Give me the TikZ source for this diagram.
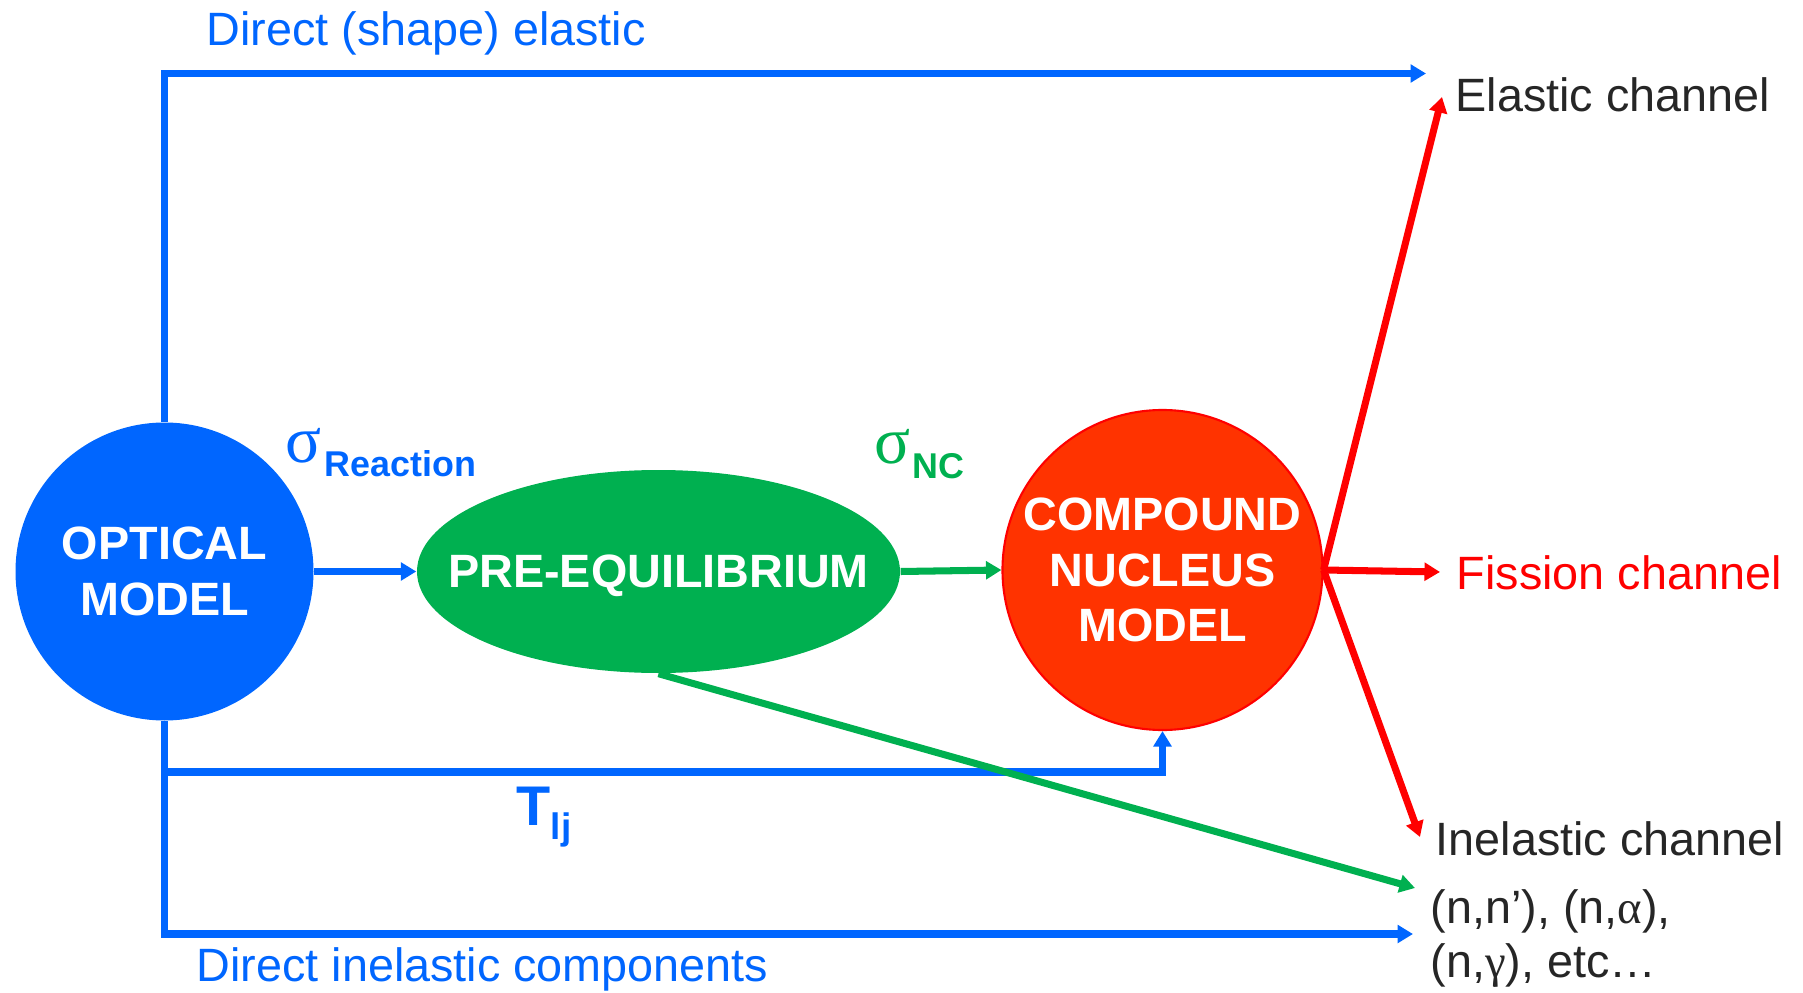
\documentclass[tikz,border=0pt]{standalone}
\usepackage{fontspec}
\setmainfont{Liberation Sans}
\newfontfamily\greekfont{Liberation Serif}
\usetikzlibrary{arrows.meta,shapes.geometric}

\definecolor{omblue}{HTML}{0066FF}
\definecolor{pegreen}{HTML}{00B050}
\definecolor{cnfill}{HTML}{FF3300}
\definecolor{cnred}{HTML}{FF0000}
\definecolor{txtgray}{HTML}{262626}

\begin{document}
\begin{tikzpicture}[
    flow/.style={line width=2pt, -{Triangle[length=4.4pt,width=5pt]}},
    model/.style={inner sep=0pt, text=white, align=center,
        font=\bfseries\fontsize{13.3}{15.8}\selectfont},
    lab/.style={anchor=base west, inner sep=0pt,
        font=\fontsize{13.3}{16}\selectfont},
]

    \useasboundingbox (0,0) rectangle (18.03,9.92);

    % modelos
    \node[model, circle, fill=omblue, minimum size=2.98cm] (optical) at (1.645,4.205) {OPTICAL\\MODEL};
    \node[model, ellipse, fill=pegreen, minimum width=4.83cm, minimum height=2.03cm, text depth=0pt] (preeq) at (6.585,4.205)
        {\makebox[2cm][c]{PRE-EQUILIBRIUM}};
    \node[model, circle, fill=cnfill, draw=cnred, line width=0.6pt, minimum size=3.2cm] (compound) at (11.625,4.22) {COMPOUND\\NUCLEUS\\MODEL};

    % canales de salida
    \node[lab, text=txtgray] (elastic) at (14.55,8.80) {Elastic channel};
    \node[lab, text=cnred] (fission) at (14.56,4.03) {Fission channel};
    \node[lab, text=txtgray] (inelastic) at (14.35,1.37) {Inelastic channel};
    \node[lab, text=txtgray] (reacone) at (14.30,0.69) {(n,n’), (n,{\greekfont α}),};
    \node[lab, text=txtgray] (reactwo) at (14.30,0.15) {(n,{\greekfont γ}), etc…};

    % etiquetas de las flechas
    \node[lab, text=omblue] (direla) at (2.06,9.46) {Direct (shape) elastic};
    \node[lab, text=omblue] (dirinel) at (1.96,0.11) {Direct inelastic components};
    \node[anchor=base west, inner sep=0pt, text=omblue] (sigreac) at (2.85,5.30)
        {{\greekfont\fontsize{19}{19}\selectfont σ}\hspace{0.03cm}\raisebox{-0.15cm}{\bfseries\fontsize{10.2}{12}\selectfont Reaction}};
    \node[anchor=base west, inner sep=0pt, text=pegreen] (signc) at (8.74,5.29)
        {{\greekfont\fontsize{19}{19}\selectfont σ}\hspace{0.02cm}\raisebox{-0.15cm}{\bfseries\fontsize{10.2}{12}\selectfont NC}};
    \node[anchor=base west, inner sep=0pt, text=omblue] (tlj) at (5.16,1.67)
        {{\bfseries\fontsize{15.9}{16}\selectfont T}\raisebox{-0.14cm}{\bfseries\fontsize{10.5}{12}\selectfont lj}};

    % extremos libres
    \coordinate (elaend) at (14.26,9.185);
    \coordinate (inelend) at (14.13,0.58);
    \coordinate (tljturn) at (1.645,2.20);
    \coordinate (redela) at (14.42,8.95);
    \coordinate (redfis) at (14.40,4.20);
    \coordinate (redinel) at (14.20,1.55);
    \coordinate (greenend) at (14.15,1.04);

    % flechas azules
    \draw[flow, omblue] (optical.north) |- (elaend);
    \draw[flow, omblue] (optical.south) |- (inelend);
    \draw[flow, omblue] (tljturn) -| (compound.south);
    \draw[flow, omblue] (optical.east) -- (preeq.west);

    % flechas verdes
    \draw[flow, pegreen] (preeq.east) -- (compound.west);
    \draw[flow, pegreen] (preeq.south) -- (greenend);

    % flechas rojas
    \draw[flow, cnred] (compound.east) -- (redela);
    \draw[flow, cnred] (compound.east) -- (redfis);
    \draw[flow, cnred] (compound.east) -- (redinel);

\end{tikzpicture}
\end{document}
